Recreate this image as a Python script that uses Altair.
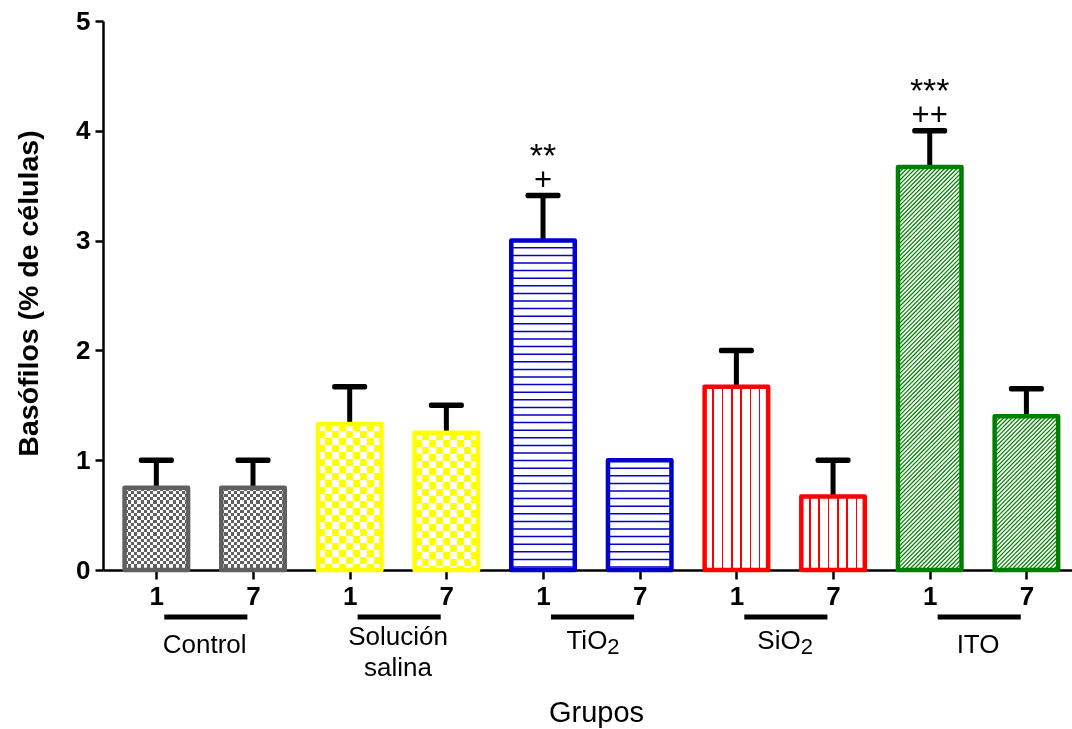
import altair as alt
import pandas as pd

# ---------------- data ----------------
groups = ["Control", "Solución salina", "TiO2", "SiO2", "ITO"]
group_main = ["Control", "Solución", "TiO", "SiO", "ITO"]
group_line2 = ["", "salina", "", "", ""]
group_sub = ["", "", "2", "2", ""]
days = ["1", "7"]
means = [0.75, 0.75, 1.33, 1.25, 3.00, 1.00, 1.67, 0.67, 3.67, 1.40]
sems = [0.25, 0.25, 0.34, 0.25, 0.41, 0.00, 0.33, 0.33, 0.33, 0.25]
stars = ["", "", "", "", "**", "", "", "", "***", ""]
crosses = ["", "", "", "", "+", "", "", "", "++", ""]
group_colors = ["#606060", "#ffff00", "#0000cc", "#ff0000", "#008000"]
patterns = ["checker_s", "checker_l", "hlines", "vlines", "diag"]

# ---------------- layout ----------------
W, H = 969, 549
YMAX = 5
XMIN, XMAX = -0.5, 9.42
PXU = H / YMAX
PXX = W / (XMAX - XMIN)
BW = 63.5          # bar geometry width (px)
SW = 4.5           # bar stroke width
FONT = "Liberation Sans"

rows = []
for i, m in enumerate(means):
    g = i // 2
    rows.append(dict(pos=i, group=groups[g], day=days[i % 2], mean=m, sem=sems[i],
                     upper=m + sems[i], star=stars[i], cross=crosses[i]))
df = pd.DataFrame(rows)

gdf = pd.DataFrame(dict(gpos=[2 * g for g in range(len(groups))], main=group_main,
                        line2=group_line2, sub=group_sub))

x_axis = alt.Axis(values=list(range(len(means))),
                  labelExpr=f"datum.value % 2 == 0 ? '{days[0]}' : '{days[1]}'",
                  title="Grupos", titleFontSize=29, titleFontWeight="normal",
                  titleX=493, titleY=151, titleBaseline="alphabetic", titleAnchor="middle",
                  labelFontSize=26, labelFontWeight="bold", labelPadding=4,
                  tickSize=9, tickWidth=2.5, tickColor="black", domainColor="black",
                  domainWidth=2.5, grid=False, labelColor="black", titleColor="black")
y_axis = alt.Axis(values=[0, 1, 2, 3, 4, 5], title="Basófilos (% de células)",
                  titleFontSize=28.5, titleFontWeight="bold", titleX=-66, titleY=272,
                  titleBaseline="alphabetic", titleAngle=-90,
                  labelFontSize=26, labelFontWeight="bold", labelPadding=5,
                  tickSize=8, tickWidth=2.5, tickColor="black", domainColor="black",
                  domainWidth=2.5, grid=False, labelColor="black", titleColor="black")

XS = alt.Scale(domain=[XMIN, XMAX], nice=False, zero=False)
YS = alt.Scale(domain=[0, YMAX], nice=False)
X = alt.X("pos:Q", scale=XS, axis=x_axis)


def Y(field):
    return alt.Y(f"{field}:Q", scale=YS, axis=y_axis)


def band_stops(on, off, starts, thick, length):
    pts = [(0.0, off)]
    for s in starts:
        a, b = s / length, (s + thick) / length
        if b <= 0 or a >= 1:
            continue
        a, b = max(a, 0.0), min(b, 1.0)
        if a <= pts[-1][0]:
            a = pts[-1][0]
        pts += [(a, off), (a, on), (b, on), (b, off)]
    pts.append((1.0, off))
    return [alt.GradientStop(offset=round(o, 5), color=c) for o, c in pts]


def grad(stops, x2, y2):
    return alt.LinearGradient(gradient="linear", stops=stops, x1=0, y1=0, x2=x2, y2=y2)


# hatch segments (texture inside the blue and green bars), derived from the bar values
hatch = []
for i, m in enumerate(means):
    g = i // 2
    pat = patterns[g]
    h = m * PXU
    w = BW
    left = i - (w / 2) / PXX
    if pat == "hlines":
        k = 0
        while 3 + k * 7.6 < h - 1:
            yy = (3 + k * 7.6) / PXU
            hatch.append(dict(x=left, x2=left + w / PXX, y=yy, y2=yy, col=group_colors[g], sw=1.5))
            k += 1
    elif pat == "diag":
        p = 4.2
        s = p / 2
        while s < w + h:
            # line x + y = s in local pixels (origin bar top-left, y downward)
            xa = max(0.0, s - h)
            xb = min(w, s)
            ya, yb = s - xa, s - xb
            hatch.append(dict(x=left + xa / PXX, x2=left + xb / PXX,
                              y=m - ya / PXU, y2=m - yb / PXU, col=group_colors[g], sw=1.2))
            s += p
hdf = pd.DataFrame(hatch)

base = alt.Chart(df)
layers = []

# error bars (below the bars so the bar outline covers the stem foot)
eb = base.transform_filter("datum.sem > 0")
layers.append(eb.mark_rule(color="black", strokeWidth=5).encode(x=X, y=Y("mean"), y2="upper:Q"))
layers.append(eb.mark_tick(color="black", opacity=1, orient="horizontal", size=35, thickness=5.5,
                           cornerRadius=2)
              .encode(x=X, y=Y("upper")))

# line textures
layers.append(alt.Chart(hdf).mark_rule(strokeCap="butt").encode(
    x=alt.X("x:Q", scale=XS, axis=x_axis), x2="x2:Q",
    y=Y("y"), y2="y2:Q",
    color=alt.Color("col:N", scale=None),
    strokeWidth=alt.StrokeWidth("sw:Q", scale=None)))

for i, m in enumerate(means):
    g = i // 2
    col = group_colors[g]
    pat = patterns[g]
    h = m * PXU
    w = BW
    sel = base.transform_filter(f"datum.pos == {i}")
    enc = dict(x=X, y=Y("mean"))
    outline = sel.mark_bar(size=BW, fill="white", fillOpacity=0, stroke=col,
                           strokeWidth=SW, strokeJoin="round").encode(**enc)
    if pat.startswith("checker"):
        c = 3.2 if pat == "checker_s" else 7.0
        nh = int(h / c) + 2
        nw = int(w / c) + 2
        hs = band_stops("black", "white", [2 * k * c for k in range(nh)], c, h)
        vs = band_stops("white", "black", [2 * k * c for k in range(nw)], c, w)
        layers.append(sel.mark_bar(size=BW, fill=grad(hs, 0, 1), strokeWidth=0).encode(**enc))
        layers.append(sel.mark_bar(size=BW, fill=grad(vs, 1, 0), strokeWidth=0,
                                   blend="difference").encode(**enc))
        layers.append(sel.mark_bar(size=BW, fill=col, strokeWidth=0, blend="lighten").encode(**enc))
        layers.append(outline)
    elif pat == "vlines":
        p, t = 9.3, 1.6
        st = band_stops(col, "white", [w / 2 + (k - 2.5) * p - t / 2 for k in range(6)], t, w)
        layers.append(sel.mark_bar(size=BW, fill=grad(st, 1, 0), stroke=col, strokeWidth=SW,
                                   strokeJoin="round").encode(**enc))
    else:
        layers.append(outline)

# significance marks
layers.append(base.transform_filter("datum.cross != ''")
              .mark_text(fontSize=31, font=FONT, color="black", baseline="alphabetic", dy=-6)
              .encode(x=X, y=Y("upper"), text="cross:N"))
layers.append(base.transform_filter("datum.star != ''")
              .mark_text(fontSize=34, font=FONT, color="black", baseline="alphabetic", dy=-29)
              .encode(x=X, y=Y("upper"), text="star:N"))

# group underlines and labels (below the axis)
gbase = alt.Chart(gdf).transform_calculate(
    ul=f"datum.gpos + {8 / PXX}", ur=f"datum.gpos + {92 / PXX}", gc="datum.gpos + 0.5")
GX = alt.X("gc:Q", scale=XS, axis=x_axis)
layers.append(gbase.mark_rule(color="black", strokeWidth=5)
              .encode(x=alt.X("ul:Q", scale=XS, axis=x_axis), x2="ur:Q", y=alt.value(596)))
layers.append(gbase.transform_filter("datum.sub == '' && datum.line2 == ''")
              .mark_text(fontSize=26, font=FONT, color="black", baseline="alphabetic")
              .encode(x=GX, y=alt.value(632), text="main:N"))
layers.append(gbase.transform_filter("datum.line2 != ''")
              .mark_text(fontSize=26, font=FONT, color="black", baseline="alphabetic")
              .encode(x=GX, y=alt.value(624), text="main:N"))
layers.append(gbase.transform_filter("datum.line2 != ''")
              .mark_text(fontSize=26, font=FONT, color="black", baseline="alphabetic")
              .encode(x=GX, y=alt.value(655), text="line2:N"))
layers.append(gbase.transform_filter("datum.sub != ''")
              .mark_text(fontSize=26, font=FONT, color="black", baseline="alphabetic", align="right", dx=16)
              .encode(x=GX, y=alt.value(628), text="main:N"))
layers.append(gbase.transform_filter("datum.sub != ''")
              .mark_text(fontSize=22, font=FONT, color="black", baseline="alphabetic", align="left", dx=16)
              .encode(x=GX, y=alt.value(633), text="sub:N"))

chart = alt.layer(*layers).properties(
    width=W, height=H,
    autosize=alt.AutoSizeParams(type="none"),
    padding={"left": 103, "top": 21, "right": 0, "bottom": 159},
).configure(font=FONT).configure_view(stroke=None)

chart.save("out.html", embed_options={"renderer": "svg", "actions": False})
